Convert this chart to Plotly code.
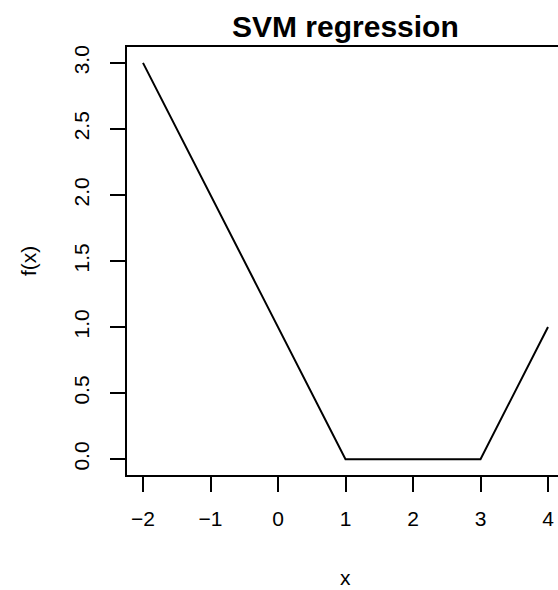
import plotly.graph_objects as go

x_vals = [-2, 1, 3, 4]
y_vals = [3, 0, 0, 1]
x_ticks = [-2, -1, 0, 1, 2, 3, 4]
x_tick_labels = ["\u22122", "\u22121", "0", "1", "2", "3", "4"]
y_ticks = [0.0, 0.5, 1.0, 1.5, 2.0, 2.5, 3.0]
y_tick_labels = ["0.0", "0.5", "1.0", "1.5", "2.0", "2.5", "3.0"]

W, H = 558, 590
L, R, T, B = 127, 0, 47, 115
px_per_x = 67.5
x_min = -2 - (143 - L) / px_per_x
x_max = 4 + (W - 548) / px_per_x

fig = go.Figure()
fig.add_trace(go.Scatter(x=x_vals, y=y_vals, mode="lines",
                         line=dict(color="black", width=2), cliponaxis=False,
                         hoverinfo="skip"))

font = "Liberation Sans, Arial, sans-serif"
fig.update_layout(
    width=W, height=H, margin=dict(l=L, r=R, t=T, b=B),
    paper_bgcolor="white", plot_bgcolor="white", showlegend=False,
    font=dict(family=font, color="black", size=20),
    xaxis=dict(range=[x_min, x_max], tickvals=x_ticks, ticktext=x_tick_labels,
               showgrid=False, zeroline=False, showline=True, linecolor="black",
               linewidth=2, mirror=True, ticks="outside", ticklen=15, tickwidth=2,
               tickcolor="black", tickfont=dict(size=21), ticklabelstandoff=9),
    yaxis=dict(range=[-0.12, 3.12], tickvals=y_ticks, ticktext=y_tick_labels,
               showgrid=False, zeroline=False, showline=True, linecolor="black",
               linewidth=2, mirror=False, ticks="outside", ticklen=15, tickwidth=2,
               tickcolor="black", tickfont=dict(size=21), tickangle=-90,
               ticklabelstandoff=13),
)
cx = ((L + 564) / 2 - L) / (W - L)
fig.add_annotation(text="<b>SVM regression</b>", xref="paper", yref="paper",
                   x=cx, y=1, yshift=21, showarrow=False, yanchor="middle",
                   font=dict(size=30, family=font))
fig.add_annotation(text="x", xref="paper", yref="paper", x=cx, y=0,
                   yshift=-(577 - 475), showarrow=False, yanchor="middle",
                   font=dict(size=21, family=font))
fig.add_annotation(text="f(x)", xref="paper", yref="paper", x=0, xshift=-(127 - 28),
                   y=0.5, showarrow=False, textangle=-90, xanchor="center",
                   font=dict(size=21, family=font))
fig.write_html("out.html")
